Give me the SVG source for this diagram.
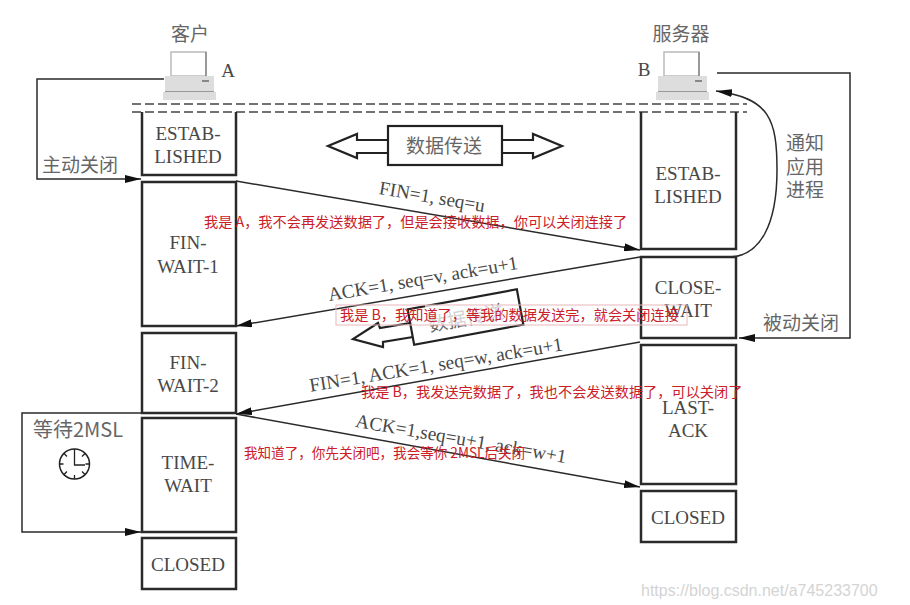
<svg xmlns="http://www.w3.org/2000/svg" width="910" height="605" viewBox="0 0 910 605">
<defs>
<marker id="arr" markerUnits="userSpaceOnUse" markerWidth="17" markerHeight="8" refX="16" refY="4" orient="auto"><path d="M0 0L16 4L0 8Z" fill="#111"/></marker>
<g id="pc">
<rect x="8" y="1" width="35" height="24" fill="#fff" stroke="#bbb" stroke-width="1.500"/>
<path d="M43 1V25" stroke="#777" stroke-width="1.200"/>
<rect x="2" y="25" width="49" height="16" fill="#ddd"/>
<path d="M2 41H51" stroke="#555" stroke-width="1.200"/>
<rect x="0" y="41" width="53" height="8" fill="#ddd"/>
<path d="M39 30H46" stroke="#888" stroke-width="2"/>
</g>
</defs>
<style>
.box{fill:none;stroke:#2a2a2a;stroke-width:2.500}
.st{font:19px "Liberation Serif","Noto Sans CJK SC",serif;fill:#484848;text-anchor:middle}
.cn{font:19px "Noto Sans CJK SC",sans-serif;fill:#666;text-anchor:middle}
.msg{font:19.2px "Liberation Serif",serif;fill:#484848;text-anchor:middle}
.red{font:14.2px "Noto Sans CJK SC","Liberation Sans",sans-serif;fill:#cc2029}
.ln{fill:none;stroke:#2a2a2a;stroke-width:1.500}
</style>
<rect width="910" height="605" fill="#fff"/>
<g id="connectors">
<path class="ln" d="M164 79H37V179H141" marker-end="url(#arr)"/>
<path class="ln" d="M717 73H850V338H739" marker-end="url(#arr)"/>
<path class="ln" d="M236 181L640 250" marker-end="url(#arr)"/>
<path class="ln" d="M640 257L236 326" marker-end="url(#arr)"/>
<path class="ln" d="M640 342L236 414" marker-end="url(#arr)"/>
<path class="ln" d="M236 414L640 487" marker-end="url(#arr)"/>
<path class="ln" d="M640 257H730C760 256 777 225 777 170C777 120 770 98 716 91" marker-end="url(#arr)"/>
<path class="ln" d="M236 413H22V532H141" marker-end="url(#arr)"/>
<path d="M132 104H747M132 112H747" fill="none" stroke="#444" stroke-width="1.300" stroke-dasharray="9 4"/>
</g>
<g id="client"><use href="#pc" x="163" y="51"/><text class="cn" x="190" y="41">客户</text><text class="st" x="228" y="77">A</text></g>
<g id="server"><use href="#pc" x="656" y="51"/><text class="cn" x="681" y="41">服务器</text><text class="st" x="644" y="76">B</text></g>
<g id="a-established"><path class="box" d="M142 112V175H236V112"/><text class="st" x="188" y="140">ESTAB-</text><text class="st" x="188" y="163">LISHED</text></g>
<g id="a-finwait1"><rect class="box" x="142" y="182" width="94" height="144"/><text class="st" x="188" y="249">FIN-</text><text class="st" x="188" y="273">WAIT-1</text></g>
<g id="a-finwait2"><rect class="box" x="142" y="333" width="94" height="80"/><text class="st" x="188" y="369">FIN-</text><text class="st" x="188" y="392">WAIT-2</text></g>
<g id="a-timewait"><rect class="box" x="142" y="418" width="94" height="114"/><text class="st" x="188" y="469">TIME-</text><text class="st" x="188" y="492">WAIT</text></g>
<g id="a-closed"><rect class="box" x="142" y="538" width="94" height="51"/><text class="st" x="188" y="571">CLOSED</text></g>
<g id="b-established"><path class="box" d="M641 112V249H736V112"/><text class="st" x="688" y="180">ESTAB-</text><text class="st" x="688" y="203">LISHED</text></g>
<g id="b-closewait"><rect class="box" x="641" y="257" width="95" height="81"/><text class="st" x="688" y="294">CLOSE-</text><text class="st" x="688" y="317">WAIT</text></g>
<g id="b-lastack"><rect class="box" x="641" y="345" width="95" height="139"/><text class="st" x="688" y="414">LAST-</text><text class="st" x="688" y="437">ACK</text></g>
<g id="b-closed"><rect class="box" x="641" y="491" width="95" height="51"/><text class="st" x="688" y="524">CLOSED</text></g>
<g id="labels">
<text class="cn" x="80" y="172">主动关闭</text>
<text class="cn" x="801" y="330">被动关闭</text>
<text class="cn" x="805" y="150">通知</text><text class="cn" x="805" y="174">应用</text><text class="cn" x="805" y="197">进程</text>
<text class="msg" transform="translate(431 203) rotate(9.700)">FIN=1, seq=u</text>
<text class="msg" transform="translate(424 285) rotate(-9.600)">ACK=1, seq=v, ack=u+1</text>
<text class="msg" transform="translate(437 371) rotate(-9.300)">FIN=1, ACK=1, seq=w, ack=u+1</text>
<text class="msg" transform="translate(460 445) rotate(9.800)">ACK=1,seq=u+1, ack=w+1</text>
<text class="cn" x="78" y="437" style="font-family:'Noto Sans CJK SC','Liberation Serif',serif;font-size:20px">等待2MSL</text>
</g>
<g id="clock" fill="none" stroke="#222"><circle cx="74.500" cy="464" r="15" stroke-width="1.500"/><path d="M74.500 449V465H85M74.500 475v4M59.500 464h4M85.500 464h4M64 453.500l3 3M85 453.500l-3 3M64 474.500l3-3M85 474.500l-3-3" stroke-width="1.300"/></g>
<g id="data-top"><path d="M388 140H357V134L328 146L357 158V153H388M502 140H533V134L562 146L533 158V153H502" fill="#fff" stroke="#222" stroke-width="2.200"/><rect x="388" y="126" width="114" height="39" fill="#fff" stroke="#222" stroke-width="2.200"/><text class="cn" x="444" y="153">数据传送</text></g>
<g id="data-mid"><path d="M410 323L380 328L378 323L353 339L383 347L383 342L413 337" fill="#fff" stroke="#222" stroke-width="2.200"/><g transform="rotate(-10.400 465.500 317)"><rect x="410" y="299" width="111" height="36" fill="#fff" stroke="#222" stroke-width="2.200"/><text class="cn" x="466" y="325">数据传送</text></g></g>
<g id="annotations">
<text class="red" x="204" y="227">我是 A，我不会再发送数据了，但是会接收数据，你可以关闭连接了</text>
<rect x="425" y="305" width="91" height="20" fill="#fff" fill-opacity="0.700"/>
<rect x="336" y="305" width="351" height="20" fill="none" stroke="#e8b8bc" stroke-width="1"/>
<text class="red" x="340" y="320">我是 B，我知道了，等我的数据发送完，就会关闭连接</text>
<text class="red" x="361" y="397">我是 B，我发送完数据了，我也不会发送数据了，可以关闭了</text>
<text class="red" x="244" y="458" textLength="281" lengthAdjust="spacingAndGlyphs">我知道了，你先关闭吧，我会等你 2MSL后关闭</text>
</g>
<text x="641" y="596" style="font:16px 'Liberation Sans',sans-serif;fill:#d4d4d4">https://blog.csdn.net/a745233700</text>
</svg>
